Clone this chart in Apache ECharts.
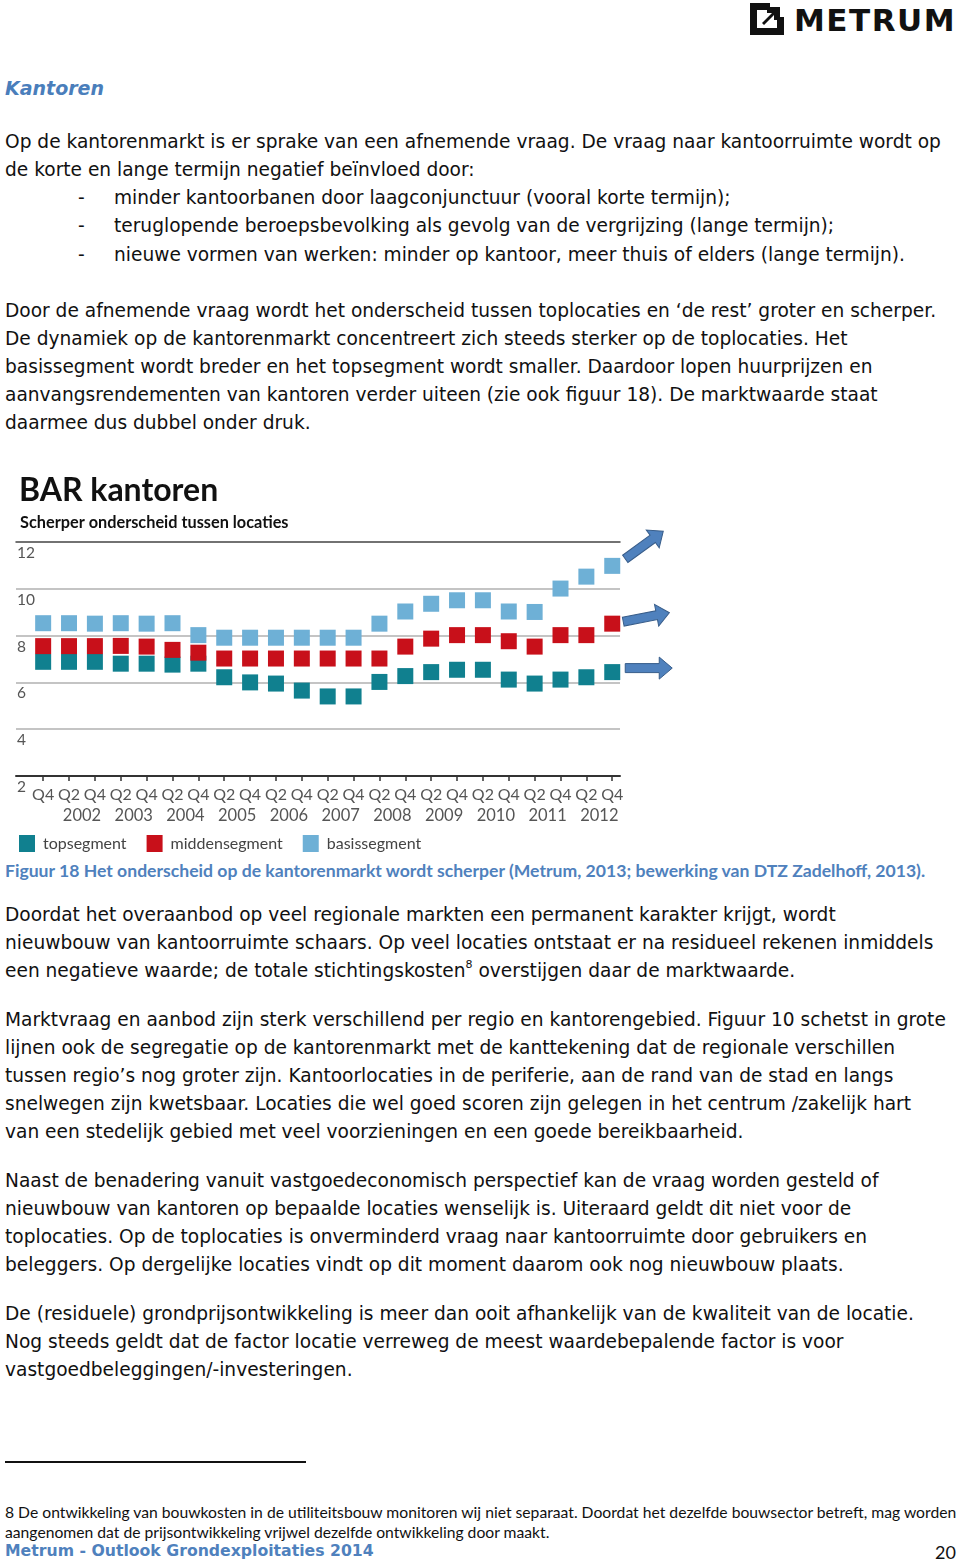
<!DOCTYPE html>
<html>
<head>
<meta charset="utf-8">
<script src="https://cdn.jsdelivr.net/npm/echarts@6/dist/echarts.min.js"></script>
<style>
  html, body { margin: 0; padding: 0; background: #fff; }
  body { width: 960px; height: 1565px; position: relative; overflow: hidden; }
  .ln { position: absolute; white-space: pre; font-family: "DejaVu Sans", sans-serif; font-size: 18.6px; line-height: 28px; color: #111; }
  .h { position: absolute; left: 5px; top: 77px; font-family: "DejaVu Sans", sans-serif; font-weight: bold; font-style: italic; font-size: 19px; color: #4a7ebb; }
  .cap { position: absolute; left: 5px; top: 860px; white-space: pre; font-family: Lato, sans-serif; font-weight: bold; font-size: 17.6px; color: #4f81bd; }
  .fn { position: absolute; left: 5px; white-space: pre; font-family: Lato, sans-serif; font-size: 15.7px; line-height: 20px; color: #111; }
  .foot { position: absolute; left: 5px; top: 1541px; white-space: pre; font-family: "DejaVu Sans", sans-serif; font-weight: bold; font-size: 15.7px; color: #4f81bd; }
  .pg { position: absolute; right: 4px; top: 1541px; font-family: Lato, sans-serif; font-size: 18px; color: #111; }
  .rule { position: absolute; left: 5px; top: 1461px; width: 301px; height: 2px; background: #111; }
  .logo { position: absolute; left: 750px; top: 3px; }
  .logotxt { position: absolute; left: 794px; top: 2px; font-family: "DejaVu Sans", sans-serif; font-weight: bold; font-size: 31px; letter-spacing: 1.5px; color: #111; }
  sup { font-size: 11px; line-height: 0; vertical-align: 9px; }
  #chart { position: absolute; left: 0; top: 460px; width: 690px; height: 400px; }
</style>
</head>
<body>
<svg class="logo" width="34" height="32" viewBox="0 0 34 32">
  <path d="M0 0 H20 V7 H7 V25 H27 V14 H34 V32 H0 Z" fill="#111"/>
  <path d="M12 20 L22 10 L17 10 L17 4 L30 4 L30 17 L24 17 L24 12 L14 22 Z" fill="#111"/>
</svg>
<div class="logotxt">METRUM</div>
<div class="h">Kantoren</div>
<div id="text"></div>
<div class="cap">Figuur 18 Het onderscheid op de kantorenmarkt wordt scherper (Metrum, 2013; bewerking van DTZ Zadelhoff, 2013).</div>
<div class="rule"></div>
<div class="fn" style="top:1502px">8 De ontwikkeling van bouwkosten in de utiliteitsbouw monitoren wij niet separaat. Doordat het dezelfde bouwsector betreft, mag worden</div>
<div class="fn" style="top:1522px">aangenomen dat de prijsontwikkeling vrijwel dezelfde ontwikkeling door maakt.</div>
<div class="foot">Metrum - Outlook Grondexploitaties 2014</div>
<div class="pg">20</div>
<div id="chart"></div>
<script>
// ---- chart data ----
const quarters = ['Q4','Q2','Q4','Q2','Q4','Q2','Q4','Q2','Q4','Q2','Q4','Q2','Q4','Q2','Q4','Q2','Q4','Q2','Q4','Q2','Q4','Q2','Q4'];
const years = ['2002','2003','2004','2005','2006','2007','2008','2009','2010','2011','2012'];
const topsegment    = [6.88,6.88,6.88,6.80,6.80,6.76,6.80,6.22,6.00,5.95,5.65,5.40,5.40,6.02,6.27,6.44,6.54,6.54,6.12,5.95,6.12,6.22,6.44];
const middensegment = [7.55,7.55,7.55,7.56,7.53,7.39,7.27,7.02,7.02,7.02,7.02,7.02,7.02,7.02,7.53,7.87,8.02,8.02,7.76,7.53,8.02,8.02,8.51];
const basissegment  = [8.53,8.53,8.51,8.53,8.51,8.53,8.02,7.91,7.91,7.91,7.91,7.91,7.91,8.51,9.03,9.36,9.51,9.51,9.03,9.01,10.01,10.52,10.98];
const yTicks = [2, 4, 6, 8, 10, 12];
const seriesNames = ['topsegment', 'middensegment', 'basissegment'];

// ---- page text ----
const lines = [
  [142, 5, 'Op de kantorenmarkt is er sprake van een afnemende vraag. De vraag naar kantoorruimte wordt op'],
  [170, 5, 'de korte en lange termijn negatief beïnvloed door:'],
  [198, 78, '-'], [198, 114, 'minder kantoorbanen door laagconjunctuur (vooral korte termijn);'],
  [226, 78, '-'], [226, 114, 'teruglopende beroepsbevolking als gevolg van de vergrijzing (lange termijn);'],
  [255, 78, '-'], [255, 114, 'nieuwe vormen van werken: minder op kantoor, meer thuis of elders (lange termijn).'],
  [311, 5, 'Door de afnemende vraag wordt het onderscheid tussen toplocaties en ‘de rest’ groter en scherper.'],
  [339, 5, 'De dynamiek op de kantorenmarkt concentreert zich steeds sterker op de toplocaties. Het'],
  [367, 5, 'basissegment wordt breder en het topsegment wordt smaller. Daardoor lopen huurprijzen en'],
  [395, 5, 'aanvangsrendementen van kantoren verder uiteen (zie ook figuur 18). De marktwaarde staat'],
  [423, 5, 'daarmee dus dubbel onder druk.'],
  [915, 5, 'Doordat het overaanbod op veel regionale markten een permanent karakter krijgt, wordt'],
  [943, 5, 'nieuwbouw van kantoorruimte schaars. Op veel locaties ontstaat er na residueel rekenen inmiddels'],
  [971, 5, 'een negatieve waarde; de totale stichtingskosten<sup>8</sup> overstijgen daar de marktwaarde.'],
  [1020, 5, 'Marktvraag en aanbod zijn sterk verschillend per regio en kantorengebied. Figuur 10 schetst in grote'],
  [1048, 5, 'lijnen ook de segregatie op de kantorenmarkt met de kanttekening dat de regionale verschillen'],
  [1076, 5, 'tussen regio’s nog groter zijn. Kantoorlocaties in de periferie, aan de rand van de stad en langs'],
  [1104, 5, 'snelwegen zijn kwetsbaar. Locaties die wel goed scoren zijn gelegen in het centrum /zakelijk hart'],
  [1132, 5, 'van een stedelijk gebied met veel voorzieningen en een goede bereikbaarheid.'],
  [1181, 5, 'Naast de benadering vanuit vastgoedeconomisch perspectief kan de vraag worden gesteld of'],
  [1209, 5, 'nieuwbouw van kantoren op bepaalde locaties wenselijk is. Uiteraard geldt dit niet voor de'],
  [1237, 5, 'toplocaties. Op de toplocaties is onverminderd vraag naar kantoorruimte door gebruikers en'],
  [1265, 5, 'beleggers. Op dergelijke locaties vindt op dit moment daarom ook nog nieuwbouw plaats.'],
  [1314, 5, 'De (residuele) grondprijsontwikkeling is meer dan ooit afhankelijk van de kwaliteit van de locatie.'],
  [1342, 5, 'Nog steeds geldt dat de factor locatie verreweg de meest waardebepalende factor is voor'],
  [1370, 5, 'vastgoedbeleggingen/-investeringen.']
];
const tc = document.getElementById('text');
lines.forEach(([y, x, t]) => {
  const d = document.createElement('div');
  d.className = 'ln';
  d.style.left = x + 'px';
  d.style.top = (y - 14) + 'px';
  d.innerHTML = t;
  tc.appendChild(d);
});

// ---- chart ----
const colors = ['#10808f', '#c8101a', '#6eb0d6'];
const seriesData = [topsegment, middensegment, basissegment];
const idx = quarters.map((q, i) => i);
const yearPos = years.map((y, i) => 1.5 + 2 * i);
const xMin = -1.05, xMax = 22.3;
const font = 'Lato, sans-serif';

const chart = echarts.init(document.getElementById('chart'), null, { renderer: 'canvas' });
const option = {
  animation: false,
  color: colors,
  title: [
    { text: 'BAR kantoren', left: 14, top: 10, textStyle: { fontFamily: font, fontWeight: 'bold', fontSize: 32, color: '#111' } },
    { text: 'Scherper onderscheid tussen locaties', left: 15, top: 50, textStyle: { fontFamily: font, fontWeight: 'bold', fontSize: 16.3, color: '#111' } }
  ],
  legend: {
    left: 14, top: 370, itemWidth: 16, itemHeight: 17, itemGap: 20, icon: 'rect',
    data: seriesNames,
    textStyle: { fontFamily: font, fontSize: 16, color: '#444', padding: [0, 0, 0, 3] }
  },
  grid: { left: 16, top: 82, width: 604, height: 234, containLabel: false },
  xAxis: [
    {
      type: 'value', min: xMin, max: xMax, position: 'bottom',
      axisLine: { show: true, lineStyle: { color: '#333', width: 2 } },
      axisTick: { show: true, customValues: idx, length: 5, lineStyle: { color: '#333', width: 1.5 } },
      axisLabel: { show: true, customValues: idx, margin: 11, fontFamily: font, fontSize: 16, color: '#555',
        formatter: v => quarters[Math.round(v)] },
      splitLine: { show: false }
    },
    {
      type: 'value', min: xMin, max: xMax, position: 'bottom',
      axisLine: { show: false }, axisTick: { show: false },
      axisLabel: { show: true, customValues: yearPos, margin: 31, fontFamily: font, fontSize: 16.5, color: '#555',
        formatter: v => years[Math.round((v - 1.5) / 2)] },
      splitLine: { show: false }
    },
    {
      type: 'value', min: xMin, max: xMax, position: 'top',
      axisLine: { show: true, lineStyle: { color: '#444', width: 1.5 } },
      axisTick: { show: false }, axisLabel: { show: false }, splitLine: { show: false }
    }
  ],
  yAxis: {
    type: 'value', min: 2, max: 12, interval: 2,
    axisLine: { show: false }, axisTick: { show: false },
    axisLabel: { inside: true, align: 'left', verticalAlign: 'top', margin: 1, padding: [3, 0, 0, 0],
      fontFamily: font, fontSize: 15.5, color: '#555' },
    splitLine: { show: true, showMinLine: false, showMaxLine: false, lineStyle: { color: '#c4c4c4', width: 2 } }
  },
  series: seriesNames.map((name, s) => ({
    name, type: 'scatter', xAxisIndex: 0, symbol: 'rect', symbolSize: 16,
    itemStyle: { color: colors[s], opacity: 1 },
    data: seriesData[s].map((v, i) => [idx[i], v])
  }))
};
chart.setOption(option);

// arrows anchored to the last point of every series
const arrowSpec = [
  { dx: 13, dy: -4, angle: 0 },
  { dx: 11, dy: -2, angle: 11 },
  { dx: 13, dy: -7, angle: 36 }
];
const arrowShape = [[0,-4.5],[34,-4.5],[34,-11],[47,0],[34,11],[34,4.5],[0,4.5]];
const graphics = seriesData.map((d, s) => {
  const last = d.length - 1;
  const p = chart.convertToPixel({ seriesIndex: s }, [idx[last], d[last]]);
  const a = arrowSpec[s];
  return {
    type: 'polygon', x: p[0] + a.dx, y: p[1] + a.dy, rotation: a.angle * Math.PI / 180,
    shape: { points: arrowShape },
    style: { fill: '#4f81bd', stroke: '#385d8a', lineWidth: 1 }
  };
});
chart.setOption({ graphic: graphics });
</script>
</body>
</html>
